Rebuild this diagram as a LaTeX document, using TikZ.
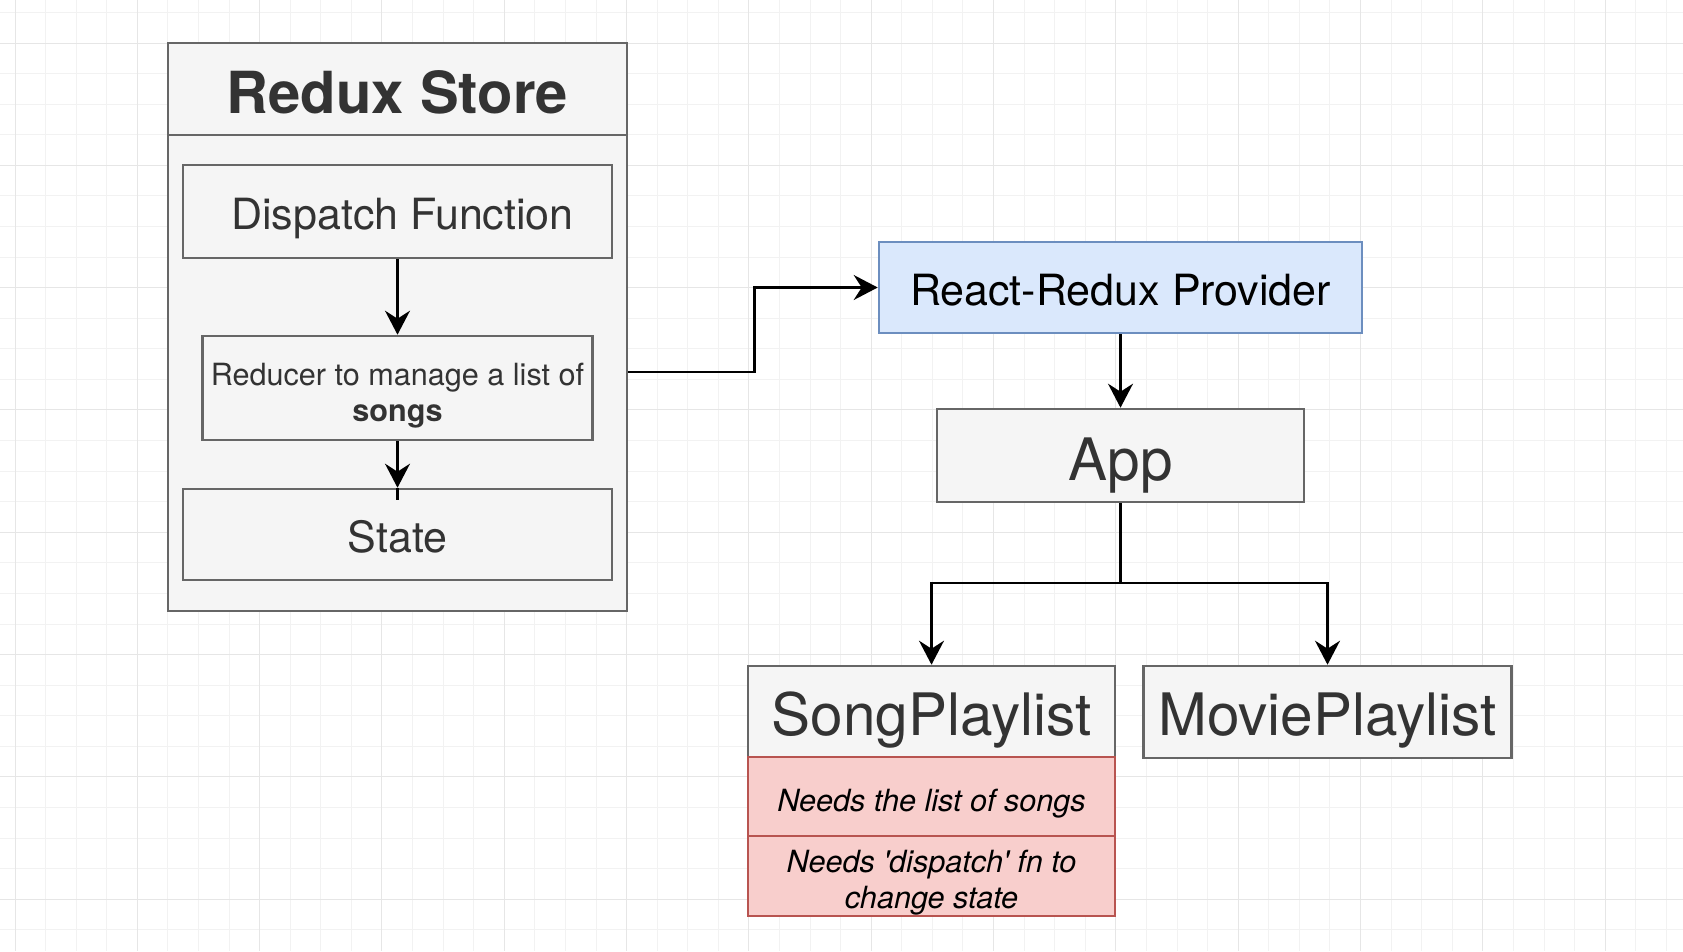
\documentclass[tikz,border=0pt]{standalone}
\usepackage{fontspec}
\setmainfont{TeX Gyre Heros}
\usetikzlibrary{arrows.meta}
\definecolor{gfill}{HTML}{F5F5F5}
\definecolor{gline}{HTML}{666666}
\definecolor{gtext}{HTML}{333333}
\definecolor{bfill}{HTML}{DAE8FC}
\definecolor{bline}{HTML}{6C8EBF}
\definecolor{rfill}{HTML}{F8CECC}
\definecolor{rline}{HTML}{B85450}
\definecolor{gridminor}{HTML}{F2F2F2}
\definecolor{gridmajor}{HTML}{E6E6E6}
\tikzset{
  gbox/.style={draw=gline, fill=gfill, line width=2.6pt, text=gtext, inner sep=0pt, align=center, rectangle, text depth=0pt},
  bbox/.style={gbox, draw=bline, fill=bfill, text=black},
  rbox/.style={gbox, draw=rline, fill=rfill, text=black},
  conn/.style={draw=black, line width=2.5pt, -{Stealth[length=24pt,width=25pt,inset=8pt]}},
  plainline/.style={draw=black, line width=2.5pt},
  fbig/.style={font=\fontsize{58.5}{62}\selectfont},
  fhead/.style={font=\fontsize{58}{60}\selectfont\bfseries},
  fmid/.style={font=\fontsize{43}{48}\selectfont},
  fsmall/.style={font=\fontsize{30.6}{36}\selectfont},
  fital/.style={font=\fontsize{30.6}{36}\selectfont\itshape},
}
\begin{document}
\begin{tikzpicture}[x=1pt,y=-1pt]
\useasboundingbox (0,0) rectangle (1683,951);
\fill[white] (0,0) rectangle (1683,951);
% grid
\foreach \i in {0,...,56} {\draw[gridminor, line width=1pt] ({-15.58+30.58*\i},0) -- ({-15.58+30.58*\i},951);}
\foreach \i in {0,...,32} {\draw[gridminor, line width=1pt] (0,{-18.16+30.58*\i}) -- (1683,{-18.16+30.58*\i});}
\foreach \i in {0,...,13} {\draw[gridmajor, line width=1pt] ({15+122.32*\i},0) -- ({15+122.32*\i},951);}
\foreach \i in {0,...,7} {\draw[gridmajor, line width=1pt] (0,{43+122.32*\i}) -- (1683,{43+122.32*\i});}

% Redux store
\node[gbox, minimum width=459pt, minimum height=568pt] (store) at (397.5,327) {};
\node[gbox, fhead, text height=48pt, minimum width=459pt, minimum height=92pt] (storehead) at (397.5,89) {Redux Store};
\node[gbox, fmid, text height=35pt, minimum width=429pt, minimum height=93pt] (disp) at (397.5,211.5) {\hspace{10pt}Dispatch Function};
\node[gbox, fsmall, text height=66pt, minimum width=390pt, minimum height=104pt] (red) at (397.5,388) {Reducer to manage a list of\\\textbf{songs}};
\node[gbox, fmid, text height=35pt, minimum width=429pt, minimum height=91pt] (state) at (397.5,534.5) {State};

% right side
\node[bbox, fmid, text height=35pt, minimum width=483pt, minimum height=91pt] (prov) at (1120.5,287.5) {React-Redux Provider};
\node[gbox, fbig, text height=49pt, minimum width=367pt, minimum height=93pt] (app) at (1120.5,455.5) {App};
\node[gbox, fbig, text height=47pt, minimum width=367pt, minimum height=91pt] (song) at (931.5,711.5) {SongPlaylist};
\node[rbox, fital, text height=30pt, minimum width=367pt, minimum height=79pt] (need1) at (931.5,796.5) {Needs the list of songs};
\node[rbox, fital, text height=64pt, minimum width=367pt, minimum height=80pt] (need2) at (931.5,876) {Needs \textquotesingle dispatch\textquotesingle\ fn to\\change state};
\node[gbox, fbig, text height=46pt, minimum width=368pt, minimum height=92pt] (movie) at (1327.5,712) {MoviePlaylist};

% connectors
\draw[conn] (disp.south) -- (red.north);
\draw[conn] (red.south) -- (state.north);
\draw[plainline] (state.north) -- ++(0,12);
\draw[conn] ([yshift=-45pt]store.east) -- ++(126,0) |- (prov.west);
\draw[conn] (prov.south) -- (app.north);
\coordinate (split) at (1120.5,583);
\draw[plainline] (app.south) -- (split);
\draw[conn] (split) -| (song.north);
\draw[conn] (split) -| (movie.north);
\end{tikzpicture}
\end{document}
